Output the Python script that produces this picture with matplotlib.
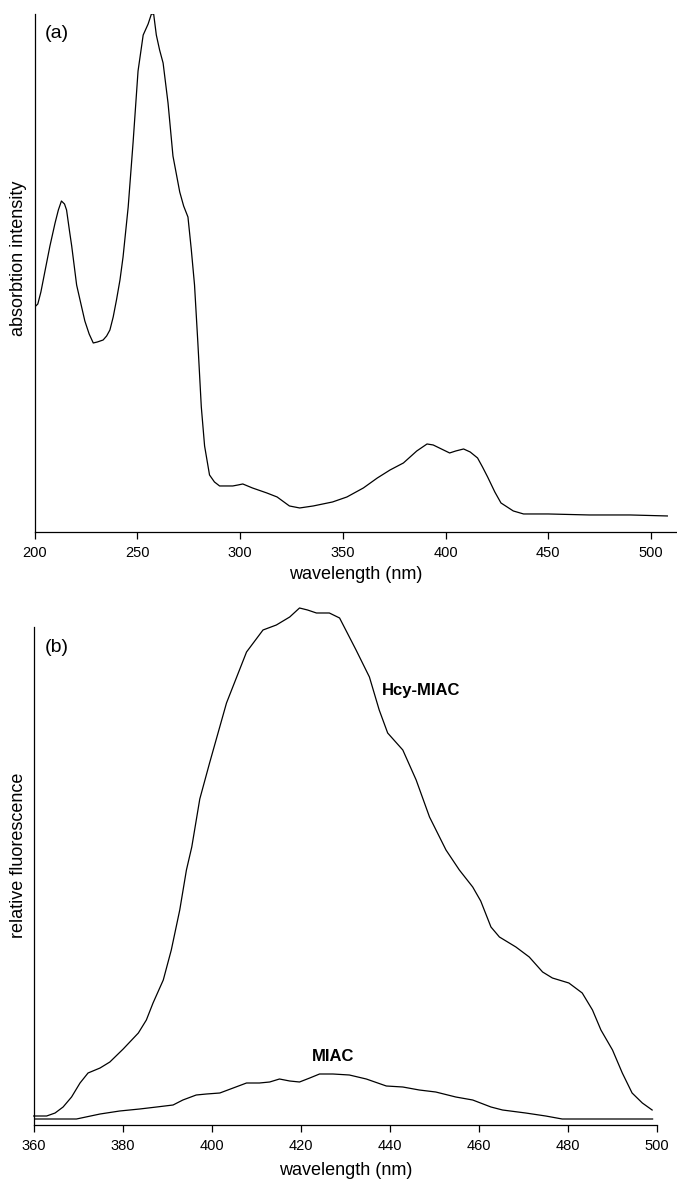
import matplotlib
matplotlib.use("Agg")
import matplotlib.pyplot as plt

plt.rcParams['font.family'] = ['Liberation Sans', 'DejaVu Sans']

# (a) absorption spectrum
abs_nm = [200, 201.5, 203, 205, 207.4, 209.9, 211.5, 213, 214.5, 215.5, 217, 218,
          220.4, 222.5, 224.4, 226.5, 228.5, 230.5, 233.3, 235, 236.6, 238.2, 239.8,
          241.5, 243, 245.5, 247.9, 250.3, 252.8, 255.2, 256.8, 257.9, 259.2, 260.8,
          262.5, 264.9, 267.3, 270.6, 272.5, 274.6, 276.2, 277.8, 279.4, 281.1, 282.7,
          285.1, 287.5, 290, 296.4, 299, 301.3, 306, 313, 318, 324, 329, 335.6, 345,
          352, 360, 366.8, 373, 379.5, 386, 391, 394, 398, 402, 405, 408.8, 412, 415.6,
          418, 420.5, 424, 427, 433, 438, 450, 470, 490, 508]
abs_val = [225, 228, 240, 261, 286, 309, 322, 331, 328, 322, 300, 286,
           247, 228, 211, 198, 189, 190, 192, 196, 202, 215, 232,
           252, 275, 325, 390, 461, 497, 508, 518, 518, 497, 482,
           469, 429, 376, 340, 326, 315, 283, 247, 190, 125, 86,
           57, 50, 46, 46, 47, 48, 44, 39, 35, 26, 24, 26, 30,
           35, 44, 54, 62, 69, 81, 88, 87, 83, 79, 81, 83, 80, 74,
           65, 55, 40, 29, 21, 18, 18, 17, 17, 16]

# (b) fluorescence spectra
hcy_nm = [360, 362.9, 364.8, 366.6, 368.5, 370.4, 372.2, 374.9, 377.1, 380.1, 383.5,
          385.3, 386.8, 389.1, 390.9, 392.8, 394.3, 395.5, 397.3, 399.5, 403.3, 407.8,
          411.5, 414.5, 417.5, 419.7, 421.5, 423.5, 426.4, 428.7, 432.4, 435.4, 437.6,
          439.5, 442.9, 445.9, 448.9, 452.6, 455.6, 458.6, 460.4, 462.7, 464.6, 468.3,
          471.3, 474.3, 476.5, 480.2, 483.2, 485.5, 487.4, 490, 492.2, 494.4, 496.7, 498.9]
hcy_val = [9, 9, 12, 18, 28, 42, 52, 57, 63, 76, 92,
           105, 122, 145, 175, 215, 255, 278, 326, 362, 422, 473,
           495, 500, 508, 517, 515, 512, 512, 507, 475, 448, 415,
           392, 375, 345, 308, 275, 255, 238, 224, 198, 188, 178,
           168, 153, 147, 142, 132, 115, 95, 75, 52, 32, 22, 15]

miac_nm = [360, 369.6, 374.9, 379.3, 383.8, 387.6, 391.3, 393.5, 396.5, 398.8, 401.8,
           404.8, 407.8, 410.7, 413, 415.2, 417.5, 419.7, 422, 424.2, 427.2, 430.9,
           434.7, 439.2, 442.9, 446.6, 450.3, 454.8, 458.6, 462.7, 465.3, 470.5, 475,
           478.7, 499]
miac_val = [6, 6, 11, 14, 16, 18, 20, 25, 30, 31, 32,
            37, 42, 42, 43, 46, 44, 43, 47, 51, 51, 50,
            46, 39, 38, 35, 33, 28, 25, 18, 15, 12, 9,
            6, 6]

fig = plt.figure(figsize=(6.77, 11.79), dpi=100)

# panel (a)
ax1 = fig.add_axes([0.0513, 0.5488, 0.9487, 0.4393])
ax1.plot(abs_nm, abs_val, color='black', linewidth=0.9)
ax1.set_xlim(200, 512.7)
ax1.set_ylim(0, 518)
ax1.set_xticks([200, 250, 300, 350, 400, 450, 500])
ax1.set_yticks([])
ax1.set_xlabel('wavelength (nm)', fontsize=13, labelpad=4.5)
ax1.set_ylabel('absorbtion intensity', fontsize=13)
ax1.yaxis.set_label_coords(-0.012, 0.529)
ax1.text(205, 499, '(a)', fontsize=14, va='center', ha='left')

# panel (b)
ax2 = fig.add_axes([0.0498, 0.0458, 0.9207, 0.4224])
ax2.plot(hcy_nm, hcy_val, color='black', linewidth=0.9, clip_on=False)
ax2.plot(miac_nm, miac_val, color='black', linewidth=0.9)
ax2.set_xlim(360, 500)
ax2.set_ylim(0, 498)
ax2.set_xticks(range(360, 501, 20))
ax2.set_yticks([])
ax2.set_xlabel('wavelength (nm)', fontsize=13, labelpad=6.5)
ax2.set_ylabel('relative fluorescence', fontsize=13)
ax2.yaxis.set_label_coords(-0.011, 0.542)
ax2.text(362.5, 477, '(b)', fontsize=14, va='center', ha='left')
ax2.text(438.1, 434, 'Hcy-MIAC', fontsize=12, fontweight='bold', va='center', ha='left')
ax2.text(427.2, 69, 'MIAC', fontsize=12, fontweight='bold', va='center', ha='center')

for ax in (ax1, ax2):
    ax.spines['top'].set_visible(False)
    ax.spines['right'].set_visible(False)
    ax.spines['left'].set_linewidth(0.9)
    ax.spines['bottom'].set_linewidth(0.9)
    ax.tick_params(axis='x', direction='out', length=5, width=0.9, labelsize=10.5, pad=5)

fig.savefig('out.png', dpi=100)
